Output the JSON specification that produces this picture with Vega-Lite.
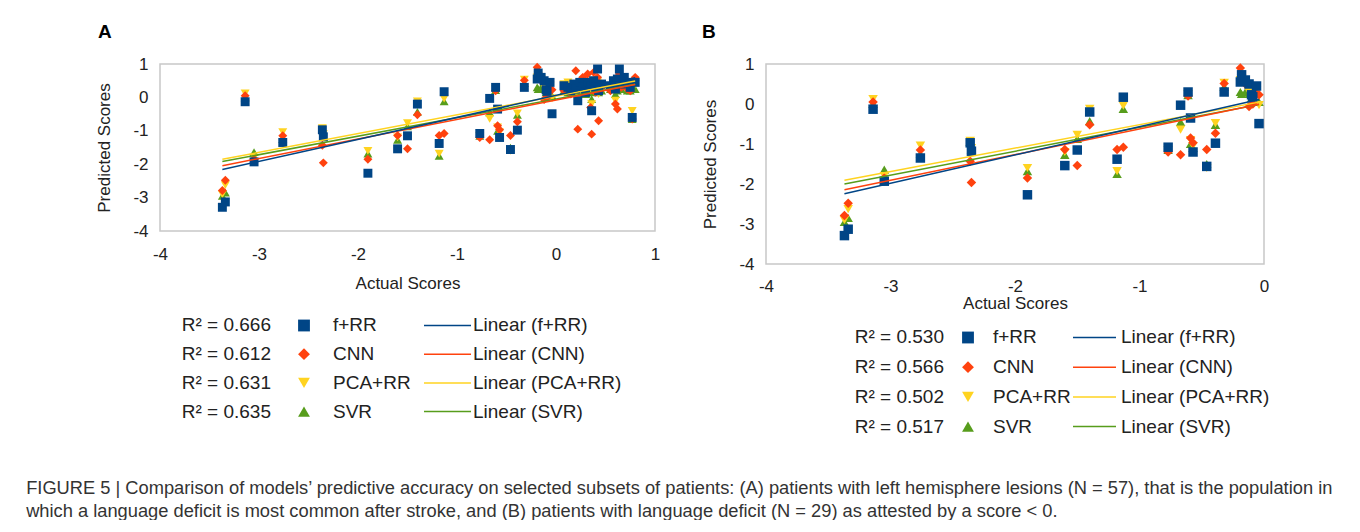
{
"$schema": "https://vega.github.io/schema/vega-lite/v6.json",
"background": "white",
"padding": {"left": 26, "top": 22, "right": 0, "bottom": 0},
"datasets": {
"scores": [
{"model":"SVR","actual":-3.37,"predicted":-2.95},{"model":"SVR","actual":-3.34,"predicted":-2.85},{"model":"SVR","actual":-3.14,"predicted":0.0},{"model":"SVR","actual":-3.05,"predicted":-1.64},{"model":"SVR","actual":-2.76,"predicted":-1.25},{"model":"SVR","actual":-2.36,"predicted":-0.95},{"model":"SVR","actual":-2.35,"predicted":-1.15},{"model":"SVR","actual":-1.9,"predicted":-1.68},{"model":"SVR","actual":-1.6,"predicted":-1.27},{"model":"SVR","actual":-1.5,"predicted":-0.87},{"model":"SVR","actual":-1.4,"predicted":-0.43},{"model":"SVR","actual":-1.18,"predicted":-1.75},{"model":"SVR","actual":-1.13,"predicted":-0.12},{"model":"SVR","actual":-0.77,"predicted":-1.15},{"model":"SVR","actual":-0.67,"predicted":-0.45},{"model":"SVR","actual":-0.61,"predicted":0.22},{"model":"SVR","actual":-0.59,"predicted":-1.0},{"model":"SVR","actual":-0.57,"predicted":-1.1},{"model":"SVR","actual":-0.46,"predicted":-1.5},{"model":"SVR","actual":-0.39,"predicted":-0.52},{"model":"SVR","actual":-0.32,"predicted":0.43},{"model":"SVR","actual":-0.19,"predicted":0.3},{"model":"SVR","actual":-0.18,"predicted":0.25},{"model":"SVR","actual":-0.15,"predicted":0.3},{"model":"SVR","actual":-0.12,"predicted":0.25},{"model":"SVR","actual":-0.1,"predicted":0.15},{"model":"SVR","actual":-0.09,"predicted":0.2},{"model":"SVR","actual":-0.06,"predicted":0.3},{"model":"SVR","actual":-0.04,"predicted":0.05},
{"model":"SVR","actual":0.08,"predicted":0.2},{"model":"SVR","actual":0.12,"predicted":0.15},{"model":"SVR","actual":0.15,"predicted":0.2},{"model":"SVR","actual":0.18,"predicted":0.25},{"model":"SVR","actual":0.2,"predicted":0.2},{"model":"SVR","actual":0.22,"predicted":0.1},{"model":"SVR","actual":0.24,"predicted":0.3},{"model":"SVR","actual":0.27,"predicted":0.15},{"model":"SVR","actual":0.3,"predicted":0.1},{"model":"SVR","actual":0.32,"predicted":0.3},{"model":"SVR","actual":0.35,"predicted":0.15},{"model":"SVR","actual":0.36,"predicted":-0.05},{"model":"SVR","actual":0.38,"predicted":0.3},{"model":"SVR","actual":0.4,"predicted":0.2},{"model":"SVR","actual":0.42,"predicted":0.4},{"model":"SVR","actual":0.43,"predicted":0.15},{"model":"SVR","actual":0.46,"predicted":0.2},{"model":"SVR","actual":0.55,"predicted":0.25},{"model":"SVR","actual":0.58,"predicted":0.3},{"model":"SVR","actual":0.6,"predicted":0.1},{"model":"SVR","actual":0.62,"predicted":0.2},{"model":"SVR","actual":0.64,"predicted":0.3},{"model":"SVR","actual":0.66,"predicted":0.25},{"model":"SVR","actual":0.69,"predicted":0.35},{"model":"SVR","actual":0.72,"predicted":0.2},{"model":"SVR","actual":0.75,"predicted":0.2},{"model":"SVR","actual":0.77,"predicted":-0.65},{"model":"SVR","actual":0.8,"predicted":0.25},
{"model":"PCA+RR","actual":-3.37,"predicted":-2.9},{"model":"PCA+RR","actual":-3.34,"predicted":-2.63},{"model":"PCA+RR","actual":-3.14,"predicted":0.12},{"model":"PCA+RR","actual":-3.05,"predicted":-1.8},{"model":"PCA+RR","actual":-2.76,"predicted":-1.04},{"model":"PCA+RR","actual":-2.36,"predicted":-0.92},{"model":"PCA+RR","actual":-2.35,"predicted":-1.1},{"model":"PCA+RR","actual":-1.9,"predicted":-1.6},{"model":"PCA+RR","actual":-1.6,"predicted":-1.2},{"model":"PCA+RR","actual":-1.5,"predicted":-0.77},{"model":"PCA+RR","actual":-1.4,"predicted":-0.12},{"model":"PCA+RR","actual":-1.18,"predicted":-1.68},{"model":"PCA+RR","actual":-1.13,"predicted":-0.04},{"model":"PCA+RR","actual":-0.77,"predicted":-1.15},{"model":"PCA+RR","actual":-0.67,"predicted":-0.64},{"model":"PCA+RR","actual":-0.61,"predicted":0.25},{"model":"PCA+RR","actual":-0.59,"predicted":-0.9},{"model":"PCA+RR","actual":-0.57,"predicted":-1.05},{"model":"PCA+RR","actual":-0.46,"predicted":-1.6},{"model":"PCA+RR","actual":-0.39,"predicted":-0.48},{"model":"PCA+RR","actual":-0.32,"predicted":0.53},{"model":"PCA+RR","actual":-0.19,"predicted":0.6},{"model":"PCA+RR","actual":-0.18,"predicted":0.65},{"model":"PCA+RR","actual":-0.15,"predicted":0.55},{"model":"PCA+RR","actual":-0.12,"predicted":0.3},{"model":"PCA+RR","actual":-0.1,"predicted":0.1},{"model":"PCA+RR","actual":-0.09,"predicted":0.05},{"model":"PCA+RR","actual":-0.06,"predicted":0.35},{"model":"PCA+RR","actual":-0.04,"predicted":-0.03},
{"model":"PCA+RR","actual":0.08,"predicted":0.4},{"model":"PCA+RR","actual":0.12,"predicted":0.45},{"model":"PCA+RR","actual":0.15,"predicted":0.35},{"model":"PCA+RR","actual":0.18,"predicted":0.3},{"model":"PCA+RR","actual":0.2,"predicted":0.3},{"model":"PCA+RR","actual":0.22,"predicted":0.0},{"model":"PCA+RR","actual":0.24,"predicted":0.4},{"model":"PCA+RR","actual":0.27,"predicted":0.25},{"model":"PCA+RR","actual":0.3,"predicted":0.35},{"model":"PCA+RR","actual":0.32,"predicted":0.45},{"model":"PCA+RR","actual":0.35,"predicted":0.2},{"model":"PCA+RR","actual":0.36,"predicted":-0.2},{"model":"PCA+RR","actual":0.38,"predicted":0.5},{"model":"PCA+RR","actual":0.4,"predicted":0.35},{"model":"PCA+RR","actual":0.42,"predicted":0.45},{"model":"PCA+RR","actual":0.43,"predicted":0.1},{"model":"PCA+RR","actual":0.46,"predicted":0.3},{"model":"PCA+RR","actual":0.55,"predicted":0.3},{"model":"PCA+RR","actual":0.58,"predicted":0.45},{"model":"PCA+RR","actual":0.6,"predicted":-0.1},{"model":"PCA+RR","actual":0.62,"predicted":0.35},{"model":"PCA+RR","actual":0.64,"predicted":0.4},{"model":"PCA+RR","actual":0.66,"predicted":0.45},{"model":"PCA+RR","actual":0.69,"predicted":0.5},{"model":"PCA+RR","actual":0.72,"predicted":0.3},{"model":"PCA+RR","actual":0.75,"predicted":0.35},{"model":"PCA+RR","actual":0.77,"predicted":-0.4},{"model":"PCA+RR","actual":0.8,"predicted":0.4},
{"model":"CNN","actual":-3.37,"predicted":-2.79},{"model":"CNN","actual":-3.34,"predicted":-2.48},{"model":"CNN","actual":-3.14,"predicted":0.05},{"model":"CNN","actual":-3.05,"predicted":-1.85},{"model":"CNN","actual":-2.76,"predicted":-1.15},{"model":"CNN","actual":-2.36,"predicted":-1.43},{"model":"CNN","actual":-2.35,"predicted":-1.96},{"model":"CNN","actual":-1.9,"predicted":-1.85},{"model":"CNN","actual":-1.6,"predicted":-1.14},{"model":"CNN","actual":-1.5,"predicted":-1.54},{"model":"CNN","actual":-1.4,"predicted":-0.52},{"model":"CNN","actual":-1.18,"predicted":-1.14},{"model":"CNN","actual":-1.13,"predicted":-1.08},{"model":"CNN","actual":-0.77,"predicted":-1.2},{"model":"CNN","actual":-0.67,"predicted":-1.27},{"model":"CNN","actual":-0.61,"predicted":0.2},{"model":"CNN","actual":-0.59,"predicted":-0.85},{"model":"CNN","actual":-0.57,"predicted":-0.97},{"model":"CNN","actual":-0.46,"predicted":-1.14},{"model":"CNN","actual":-0.39,"predicted":-0.73},{"model":"CNN","actual":-0.32,"predicted":0.51},{"model":"CNN","actual":-0.19,"predicted":0.9},{"model":"CNN","actual":-0.18,"predicted":0.73},{"model":"CNN","actual":-0.15,"predicted":0.5},{"model":"CNN","actual":-0.12,"predicted":-0.06},{"model":"CNN","actual":-0.1,"predicted":0.23},{"model":"CNN","actual":-0.09,"predicted":0.0},{"model":"CNN","actual":-0.06,"predicted":0.25},{"model":"CNN","actual":-0.04,"predicted":0.23},
{"model":"CNN","actual":0.08,"predicted":0.2},{"model":"CNN","actual":0.12,"predicted":0.25},{"model":"CNN","actual":0.15,"predicted":0.1},{"model":"CNN","actual":0.18,"predicted":0.3},{"model":"CNN","actual":0.2,"predicted":0.8},{"model":"CNN","actual":0.22,"predicted":-0.95},{"model":"CNN","actual":0.24,"predicted":0.35},{"model":"CNN","actual":0.27,"predicted":0.6},{"model":"CNN","actual":0.3,"predicted":0.2},{"model":"CNN","actual":0.32,"predicted":0.7},{"model":"CNN","actual":0.35,"predicted":-0.3},{"model":"CNN","actual":0.36,"predicted":-1.1},{"model":"CNN","actual":0.38,"predicted":0.75},{"model":"CNN","actual":0.4,"predicted":0.15},{"model":"CNN","actual":0.42,"predicted":0.6},{"model":"CNN","actual":0.43,"predicted":-0.7},{"model":"CNN","actual":0.46,"predicted":0.3},{"model":"CNN","actual":0.55,"predicted":0.2},{"model":"CNN","actual":0.58,"predicted":0.4},{"model":"CNN","actual":0.6,"predicted":-0.2},{"model":"CNN","actual":0.62,"predicted":-0.35},{"model":"CNN","actual":0.64,"predicted":0.7},{"model":"CNN","actual":0.66,"predicted":0.3},{"model":"CNN","actual":0.69,"predicted":0.5},{"model":"CNN","actual":0.72,"predicted":0.25},{"model":"CNN","actual":0.75,"predicted":0.2},{"model":"CNN","actual":0.77,"predicted":-0.65},{"model":"CNN","actual":0.8,"predicted":0.6},
{"model":"f+RR","actual":-3.37,"predicted":-3.29},{"model":"f+RR","actual":-3.34,"predicted":-3.13},{"model":"f+RR","actual":-3.14,"predicted":-0.13},{"model":"f+RR","actual":-3.05,"predicted":-1.93},{"model":"f+RR","actual":-2.76,"predicted":-1.35},{"model":"f+RR","actual":-2.36,"predicted":-0.97},{"model":"f+RR","actual":-2.35,"predicted":-1.18},{"model":"f+RR","actual":-1.9,"predicted":-2.27},{"model":"f+RR","actual":-1.6,"predicted":-1.54},{"model":"f+RR","actual":-1.5,"predicted":-1.15},{"model":"f+RR","actual":-1.4,"predicted":-0.2},{"model":"f+RR","actual":-1.18,"predicted":-1.38},{"model":"f+RR","actual":-1.13,"predicted":0.17},{"model":"f+RR","actual":-0.77,"predicted":-1.08},{"model":"f+RR","actual":-0.67,"predicted":-0.03},{"model":"f+RR","actual":-0.61,"predicted":0.3},{"model":"f+RR","actual":-0.59,"predicted":-0.35},{"model":"f+RR","actual":-0.57,"predicted":-1.2},{"model":"f+RR","actual":-0.46,"predicted":-1.56},{"model":"f+RR","actual":-0.39,"predicted":-0.98},{"model":"f+RR","actual":-0.32,"predicted":0.3},{"model":"f+RR","actual":-0.19,"predicted":0.55},{"model":"f+RR","actual":-0.18,"predicted":0.73},{"model":"f+RR","actual":-0.15,"predicted":0.6},{"model":"f+RR","actual":-0.12,"predicted":0.5},{"model":"f+RR","actual":-0.1,"predicted":0.23},{"model":"f+RR","actual":-0.09,"predicted":0.18},{"model":"f+RR","actual":-0.06,"predicted":0.45},{"model":"f+RR","actual":-0.04,"predicted":-0.49},
{"model":"f+RR","actual":0.08,"predicted":0.35},{"model":"f+RR","actual":0.12,"predicted":0.3},{"model":"f+RR","actual":0.15,"predicted":0.2},{"model":"f+RR","actual":0.18,"predicted":0.4},{"model":"f+RR","actual":0.2,"predicted":0.25},{"model":"f+RR","actual":0.22,"predicted":-0.1},{"model":"f+RR","actual":0.24,"predicted":0.45},{"model":"f+RR","actual":0.27,"predicted":0.3},{"model":"f+RR","actual":0.3,"predicted":0.15},{"model":"f+RR","actual":0.32,"predicted":0.45},{"model":"f+RR","actual":0.35,"predicted":0.35},{"model":"f+RR","actual":0.36,"predicted":-0.4},{"model":"f+RR","actual":0.38,"predicted":0.5},{"model":"f+RR","actual":0.4,"predicted":0.3},{"model":"f+RR","actual":0.42,"predicted":0.85},{"model":"f+RR","actual":0.43,"predicted":0.2},{"model":"f+RR","actual":0.46,"predicted":0.4},{"model":"f+RR","actual":0.55,"predicted":0.35},{"model":"f+RR","actual":0.58,"predicted":0.5},{"model":"f+RR","actual":0.6,"predicted":0.25},{"model":"f+RR","actual":0.62,"predicted":0.55},{"model":"f+RR","actual":0.64,"predicted":0.85},{"model":"f+RR","actual":0.66,"predicted":0.4},{"model":"f+RR","actual":0.69,"predicted":0.6},{"model":"f+RR","actual":0.72,"predicted":0.45},{"model":"f+RR","actual":0.75,"predicted":0.3},{"model":"f+RR","actual":0.77,"predicted":-0.6},{"model":"f+RR","actual":0.8,"predicted":0.45}
],
"legend": [
{"panel":"A","model":"f+RR","r2":"R² = 0.666","trend":"Linear (f+RR)"},
{"panel":"A","model":"CNN","r2":"R² = 0.612","trend":"Linear (CNN)"},
{"panel":"A","model":"PCA+RR","r2":"R² = 0.631","trend":"Linear (PCA+RR)"},
{"panel":"A","model":"SVR","r2":"R² = 0.635","trend":"Linear (SVR)"},
{"panel":"B","model":"f+RR","r2":"R² = 0.530","trend":"Linear (f+RR)"},
{"panel":"B","model":"CNN","r2":"R² = 0.566","trend":"Linear (CNN)"},
{"panel":"B","model":"PCA+RR","r2":"R² = 0.502","trend":"Linear (PCA+RR)"},
{"panel":"B","model":"SVR","r2":"R² = 0.517","trend":"Linear (SVR)"}
]
},
"title": {
"text": ["FIGURE 5 | Comparison of models’ predictive accuracy on selected subsets of patients: (A) patients with left hemisphere lesions (N = 57), that is the population in", "which a language deficit is most common after stroke, and (B) patients with language deficit (N = 29) as attested by a score < 0."],
"orient": "bottom", "anchor": "start", "font": "Liberation Sans", "fontSize": 18.3, "fontWeight": "normal", "color": "#333333", "lineHeight": 23, "offset": 26, "dx": -69
},
"columns": 2,
"bounds": "flush",
"spacing": {"row": 46.5, "column": 111},
"concat": [
{
"width": 495, "height": 167,
"title": {"text": "A", "anchor": "start", "dx": 2, "offset": 13},
"data": {"name": "scores"},
"encoding": {
"x": {"field": "actual", "type": "quantitative", "scale": {"domain": [-4, 1], "nice": false, "zero": false}, "axis": {"values": [-4, -3, -2, -1, 0, 1], "labelExpr": "'' + datum.value", "labelOverlap": false, "labelPadding": 15, "title": "Actual Scores", "titlePadding": 13}},
"y": {"field": "predicted", "type": "quantitative", "scale": {"domain": [-4, 1], "nice": false, "zero": false}, "axis": {"values": [-4, -3, -2, -1, 0, 1], "labelExpr": "'' + datum.value", "labelOverlap": false, "title": "Predicted Scores", "titlePadding": 19}},
"color": {"field": "model", "type": "nominal", "scale": {"domain": ["f+RR", "CNN", "PCA+RR", "SVR"], "range": ["#004586", "#ff420e", "#ffd320", "#579d1c"]}, "legend": null}
},
"layer": [
{"mark": {"type": "point", "filled": true, "opacity": 1, "size": 80},
"encoding": {"shape": {"field": "model", "type": "nominal", "scale": {"domain": ["f+RR", "CNN", "PCA+RR", "SVR"], "range": ["square", "diamond", "triangle-down", "triangle-up"]}, "legend": null}}},
{"transform": [{"regression": "predicted", "on": "actual", "groupby": ["model"]}],
"mark": {"type": "line", "strokeWidth": 1.5},
"encoding": {}}
]
},
{
"width": 498, "height": 200,
"title": {"text": "B", "anchor": "start", "dx": 0, "offset": 13},
"data": {"name": "scores"},
"transform": [{"filter": "datum.actual < 0"}],
"encoding": {
"x": {"field": "actual", "type": "quantitative", "scale": {"domain": [-4, 0], "nice": false, "zero": false}, "axis": {"values": [-4, -3, -2, -1, 0], "labelExpr": "'' + datum.value", "labelOverlap": false, "labelPadding": 14, "title": "Actual Scores", "titlePadding": 1}},
"y": {"field": "predicted", "type": "quantitative", "scale": {"domain": [-4, 1], "nice": false, "zero": false}, "axis": {"values": [-4, -3, -2, -1, 0, 1], "labelExpr": "'' + datum.value", "labelOverlap": false, "title": "Predicted Scores", "titlePadding": 19}},
"color": {"field": "model", "type": "nominal", "scale": {"domain": ["f+RR", "CNN", "PCA+RR", "SVR"], "range": ["#004586", "#ff420e", "#ffd320", "#579d1c"]}, "legend": null}
},
"layer": [
{"mark": {"type": "point", "filled": true, "opacity": 1, "size": 90},
"encoding": {"shape": {"field": "model", "type": "nominal", "scale": {"domain": ["f+RR", "CNN", "PCA+RR", "SVR"], "range": ["square", "diamond", "triangle-down", "triangle-up"]}, "legend": null}}},
{"transform": [{"regression": "predicted", "on": "actual", "groupby": ["model"]}],
"mark": {"type": "line", "strokeWidth": 1.5},
"encoding": {}}
]
},
{
"width": 495, "height": 116.1,
"view": {"stroke": null},
"data": {"name": "legend"},
"transform": [{"filter": "datum.panel == 'A'"}],
"encoding": {
"y": {"field": "model", "type": "nominal", "sort": ["f+RR", "CNN", "PCA+RR", "SVR"], "scale": {"type": "point", "padding": 0.5226}, "axis": null},
"color": {"field": "model", "type": "nominal", "scale": {"domain": ["f+RR", "CNN", "PCA+RR", "SVR"], "range": ["#004586", "#ff420e", "#ffd320", "#579d1c"]}, "legend": null}
},
"layer": [
{"mark": {"type": "text", "align": "right", "baseline": "middle", "fontSize": 19, "font": "Liberation Sans"},
"encoding": {"x": {"datum": 111, "type": "quantitative", "scale": {"domain": [0, 495], "nice": false, "zero": false}, "axis": null}, "text": {"field": "r2"}, "color": {"value": "#222222"}}},
{"mark": {"type": "point", "filled": true, "opacity": 1, "size": 140},
"encoding": {"x": {"datum": 144, "type": "quantitative"},
"shape": {"field": "model", "type": "nominal", "scale": {"domain": ["f+RR", "CNN", "PCA+RR", "SVR"], "range": ["square", "diamond", "triangle-down", "triangle-up"]}, "legend": null}}},
{"mark": {"type": "text", "align": "left", "baseline": "middle", "fontSize": 19, "font": "Liberation Sans"},
"encoding": {"x": {"datum": 173, "type": "quantitative"}, "text": {"field": "model"}, "color": {"value": "#222222"}}},
{"mark": {"type": "rule", "strokeWidth": 1.5},
"encoding": {"x": {"datum": 264, "type": "quantitative"}, "x2": {"datum": 311}}},
{"mark": {"type": "text", "align": "left", "baseline": "middle", "fontSize": 19, "font": "Liberation Sans"},
"encoding": {"x": {"datum": 313, "type": "quantitative"}, "text": {"field": "trend"}, "color": {"value": "#222222"}}}
]
},
{
"width": 498, "height": 143.1,
"view": {"stroke": null},
"data": {"name": "legend"},
"transform": [{"filter": "datum.panel == 'B'"}],
"encoding": {
"y": {"field": "model", "type": "nominal", "sort": ["f+RR", "CNN", "PCA+RR", "SVR"], "scale": {"type": "point", "padding": 0.909}, "axis": null},
"color": {"field": "model", "type": "nominal", "scale": {"domain": ["f+RR", "CNN", "PCA+RR", "SVR"], "range": ["#004586", "#ff420e", "#ffd320", "#579d1c"]}, "legend": null}
},
"layer": [
{"mark": {"type": "text", "align": "right", "baseline": "middle", "fontSize": 19, "font": "Liberation Sans"},
"encoding": {"x": {"datum": 178, "type": "quantitative", "scale": {"domain": [0, 498], "nice": false, "zero": false}, "axis": null}, "text": {"field": "r2"}, "color": {"value": "#222222"}}},
{"mark": {"type": "point", "filled": true, "opacity": 1, "size": 140},
"encoding": {"x": {"datum": 202, "type": "quantitative"},
"shape": {"field": "model", "type": "nominal", "scale": {"domain": ["f+RR", "CNN", "PCA+RR", "SVR"], "range": ["square", "diamond", "triangle-down", "triangle-up"]}, "legend": null}}},
{"mark": {"type": "text", "align": "left", "baseline": "middle", "fontSize": 19, "font": "Liberation Sans"},
"encoding": {"x": {"datum": 227, "type": "quantitative"}, "text": {"field": "model"}, "color": {"value": "#222222"}}},
{"mark": {"type": "rule", "strokeWidth": 1.5},
"encoding": {"x": {"datum": 307, "type": "quantitative"}, "x2": {"datum": 350}}},
{"mark": {"type": "text", "align": "left", "baseline": "middle", "fontSize": 19, "font": "Liberation Sans"},
"encoding": {"x": {"datum": 355, "type": "quantitative"}, "text": {"field": "trend"}, "color": {"value": "#222222"}}}
]
}
],
"config": {
"view": {"stroke": "#c8c8c8", "strokeWidth": 1.5},
"title": {"font": "Liberation Sans", "fontSize": 19, "fontWeight": "bold", "color": "#000000"},
"axis": {"domain": false, "ticks": false, "grid": false, "labelFlush": false, "labelOverlap": false, "labelFont": "Liberation Sans", "labelFontSize": 17, "labelColor": "#222222", "titleFont": "Liberation Sans", "titleFontSize": 17, "titleFontWeight": "normal", "titleColor": "#222222"},
"axisX": {"labelPadding": 16},
"axisY": {"labelPadding": 12}
}
}
